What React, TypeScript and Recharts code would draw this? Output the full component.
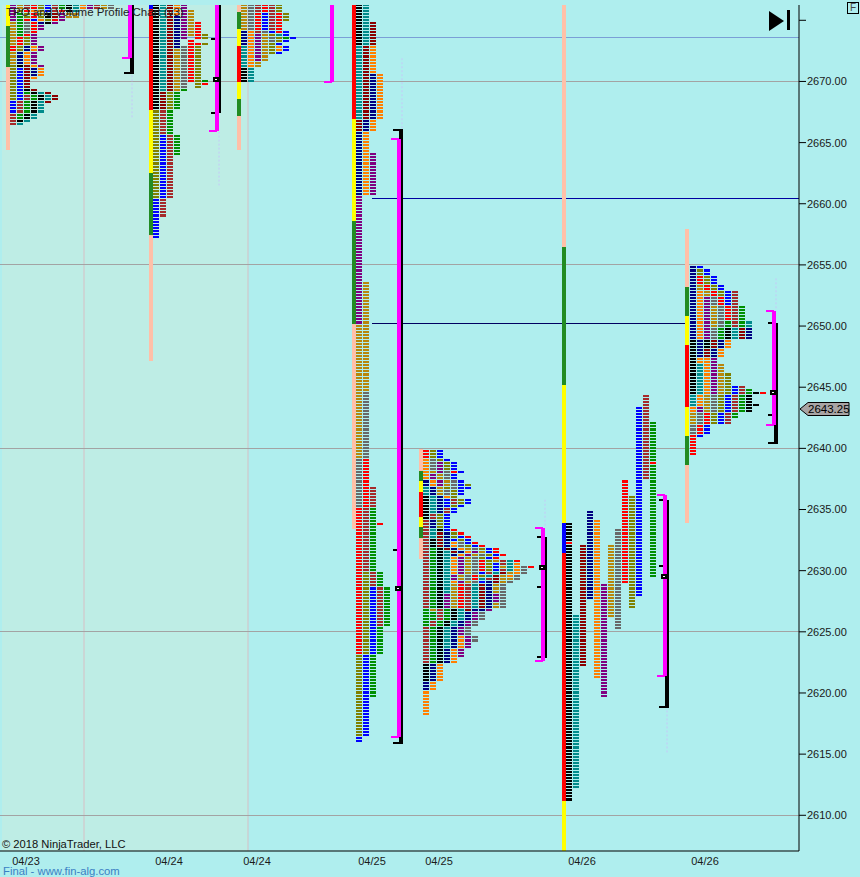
import { ReferenceArea, ReferenceDot, ReferenceLine, Scatter, ScatterChart, XAxis, YAxis } from "recharts"

const FONT = "'Liberation Sans', Arial, sans-serif"
const TOP = 2676.25
const BOTTOM = 2607.08
const COL_STEP = 7
const UNDER_MARKS = -50

const colors: Record<string, string> = {
  K: "#000000",
  T: "#008b8b",
  D: "#8b0000",
  N: "#000080",
  O: "#ff7f00",
  P: "#800080",
  G: "#b8860b",
  Y: "#696969",
  R: "#ff0000",
  L: "#808000",
  B: "#0000ff",
  W: "#a52a2a",
  F: "#008f00",
}

const priceTicks = [2610, 2615, 2620, 2625, 2630, 2635, 2640, 2645, 2650, 2655, 2660, 2665, 2670, 2675]
const gridPrices = [2610, 2625, 2640, 2655, 2670]
const sessionTicks = [26, 169, 257, 372, 439, 582, 705]
const sessionLabels = ["04/23", "04/24", "04/24", "04/25", "04/25", "04/26", "04/26"]
const lastPrice = 2643.25

// profile rows: [high, low, letters left to right]
const bands0423 = [
  [2676.25, 2676.0, "PGWRLBWFKTOPWGY"],
  [2675.75, 2675.75, "PLROGBWRKT"],
  [2675.5, 2675.25, "PFLRLKDPGG"],
  [2675.0, 2675.0, "PFRBOLRP"],
  [2674.75, 2674.75, "GFYRNKP"],
  [2674.5, 2674.25, "GFYRP"],
  [2674.0, 2674.0, "GFYR"],
  [2673.75, 2673.75, "GFRP"],
  [2673.5, 2673.0, "GRLP"],
  [2672.75, 2672.5, "RLNOP"],
  [2672.25, 2671.5, "GNOP"],
  [2671.25, 2671.25, "LKDOP"],
  [2671.0, 2670.5, "LBDNO"],
  [2670.25, 2670.25, "LBDO"],
  [2670.0, 2669.5, "LBD"],
  [2669.25, 2669.25, "LBKD"],
  [2669.0, 2669.0, "LBFKTD"],
  [2668.75, 2668.5, "LBWFKTD"],
  [2668.25, 2668.25, "BWFKTD"],
  [2668.0, 2667.5, "BWFKT"],
  [2667.25, 2667.0, "WFKT"],
  [2666.75, 2666.75, "WKT"],
  [2666.5, 2666.5, "WT"],
]

const bands0424 = [
  [2676.25, 2675.75, "GYWRWL"],
  [2675.5, 2675.0, "GYRBWRL"],
  [2674.75, 2674.25, "GYRBWR"],
  [2674.0, 2674.0, "NOWYBRB"],
  [2673.75, 2673.75, "NOPGLTB"],
  [2673.5, 2673.5, "NOPGYLFB"],
  [2673.25, 2673.25, "NOPGYLB"],
  [2673.0, 2673.0, "NOPGLB"],
  [2672.75, 2672.5, "TOPGLOB"],
  [2672.25, 2672.25, "TOPGLB"],
  [2672.0, 2671.75, "TOPG"],
  [2671.5, 2671.25, "TOG"],
  [2671.0, 2670.0, "KT"],
]

const bands0425 = [
  [2639.75, 2639.25, "RLB"],
  [2639.0, 2639.0, "OYLB"],
  [2638.75, 2638.25, "OYPLB"],
  [2638.0, 2638.0, "OGPYRB"],
  [2637.75, 2637.5, "OPGYB"],
  [2637.25, 2637.25, "NOPGYB"],
  [2637.0, 2637.0, "NOPGYBL"],
  [2636.75, 2636.75, "TNGLYBB"],
  [2636.5, 2636.25, "TNGYLB"],
  [2636.0, 2636.0, "KTNOL"],
  [2635.75, 2635.5, "KTNBWLB"],
  [2635.25, 2635.25, "KTNBLB"],
  [2635.0, 2634.75, "KTNWB"],
  [2634.5, 2634.25, "KWLB"],
  [2634.0, 2633.5, "WNLB"],
  [2633.25, 2633.25, "WTKBR"],
  [2633.0, 2633.0, "WTDNLR"],
  [2632.75, 2632.75, "WTDNLBR"],
  [2632.5, 2632.5, "WKDNBLB"],
  [2632.25, 2632.25, "WKDNOYBR"],
  [2632.0, 2632.0, "WKDNOYLBR"],
  [2631.75, 2631.75, "WFKDNOGYLBR"],
  [2631.5, 2631.5, "WFKTDNOPGBR"],
  [2631.25, 2631.25, "WFKTNOPGYLBR"],
  [2631.0, 2631.0, "WFKTOPGYLBR"],
  [2630.75, 2630.75, "WFKTOPGYRLGWTR"],
  [2630.5, 2630.5, "WFKTOPGYRLBWTO"],
  [2630.25, 2630.25, "WFKTOPGYRLBGTOYR"],
  [2630.0, 2630.0, "WFKTOPGYRLBWTOY"],
  [2629.75, 2629.75, "WFKTOPGYBWTDGOY"],
  [2629.5, 2629.5, "WFKTPGYRLTDGOY"],
  [2629.25, 2629.25, "WFKTPGYRTWDGGY"],
  [2629.0, 2629.0, "WFKTOPGYBNDGY"],
  [2628.75, 2628.25, "WFKTGRWTDNGY"],
  [2628.0, 2627.5, "WFKPGRWTDNPY"],
  [2627.25, 2627.0, "WFKPGRWTDNGY"],
  [2626.75, 2626.75, "FGWFKTDNNP"],
  [2626.5, 2626.0, "FFWFKTNPY"],
  [2625.75, 2625.5, "FWFKTNPY"],
  [2625.25, 2624.75, "WFKTNPY"],
  [2624.5, 2624.25, "WFKTNOPY"],
  [2624.0, 2623.75, "WFKTNOP"],
  [2623.5, 2623.0, "WFKNOP"],
  [2622.75, 2622.5, "WFKNO"],
  [2622.25, 2621.0, "KNO"],
  [2620.75, 2620.25, "NO"],
  [2620.0, 2618.25, "O"],
]

const bands0426 = [
  [2654.75, 2654.75, "NB"],
  [2654.5, 2654.25, "NLB"],
  [2654.0, 2653.5, "NRLB"],
  [2653.25, 2653.0, "NGRLB"],
  [2652.75, 2652.5, "NOGRLBW"],
  [2652.25, 2651.75, "NOPYRBW"],
  [2651.5, 2650.5, "NOPGYRWF"],
  [2650.25, 2650.0, "NOPGYFWFT"],
  [2649.75, 2649.0, "NOPYFKTDN"],
  [2648.75, 2648.25, "KNKDNO"],
  [2648.0, 2647.5, "KNDNO"],
  [2647.25, 2647.0, "KOOP"],
  [2646.75, 2646.25, "KTOPG"],
  [2646.0, 2645.25, "KTOPGL"],
  [2645.0, 2645.0, "KTOPGLBW"],
  [2644.75, 2644.75, "KTOPGLBWF"],
  [2644.5, 2644.5, "KTOPGLBWFKR"],
  [2644.25, 2643.75, "TOGYLBWFK"],
  [2643.5, 2643.5, "TOGYLBWFKK"],
  [2643.25, 2643.0, "OPGYLBWFK"],
  [2642.75, 2642.5, "GYRLBWF"],
  [2642.25, 2642.0, "GYRLBW"],
  [2641.75, 2641.25, "YRB"],
  [2641.0, 2641.0, "RB"],
  [2640.75, 2639.5, "R"],
]

// column runs: [column, letter, high, low]
const runs0424 = [
  [0, "K", 2676.25, 2667.75],
  [0, "L", 2667.5, 2660.5],
  [0, "B", 2660.25, 2657.25],
  [1, "T", 2676.25, 2669.25],
  [1, "D", 2669.0, 2667.75],
  [1, "W", 2667.5, 2665.75],
  [1, "B", 2665.5, 2660.5],
  [1, "W", 2660.25, 2659.0],
  [2, "D", 2676.25, 2669.25],
  [2, "L", 2669.0, 2667.75],
  [2, "F", 2667.5, 2665.75],
  [2, "W", 2665.5, 2660.5],
  [3, "O", 2676.25, 2675.5],
  [3, "N", 2675.25, 2672.75],
  [3, "G", 2672.5, 2669.25],
  [3, "F", 2669.0, 2667.75],
  [3, "F", 2665.5, 2664.0],
  [4, "P", 2676.25, 2673.5],
  [4, "Y", 2672.75, 2669.5],
  [4, "F", 2669.25, 2669.25],
  [5, "G", 2675.75, 2673.75],
  [5, "R", 2673.25, 2670.0],
  [6, "R", 2674.75, 2673.5],
  [6, "R", 2673.0, 2673.0],
  [6, "L", 2672.75, 2669.5],
  [7, "L", 2673.75, 2673.5],
  [7, "L", 2673.0, 2673.0],
  [7, "F", 2670.0, 2670.0],
  [7, "R", 2669.75, 2669.75],
]

const runs0425 = [
  [0, "K", 2676.25, 2673.0],
  [0, "T", 2672.75, 2667.0],
  [0, "D", 2666.75, 2666.0],
  [0, "N", 2665.75, 2660.75],
  [0, "P", 2660.5, 2650.25],
  [0, "G", 2650.0, 2639.25],
  [0, "Y", 2639.0, 2635.25],
  [0, "R", 2635.0, 2623.25],
  [0, "L", 2623.0, 2616.5],
  [0, "B", 2616.25, 2616.0],
  [1, "T", 2676.25, 2673.0],
  [1, "D", 2672.75, 2667.0],
  [1, "N", 2666.75, 2666.0],
  [1, "O", 2665.75, 2660.75],
  [1, "G", 2653.5, 2644.75],
  [1, "Y", 2644.5, 2639.25],
  [1, "R", 2639.0, 2635.25],
  [1, "W", 2635.0, 2629.75],
  [1, "L", 2629.75, 2623.25],
  [1, "B", 2623.0, 2616.5],
  [2, "D", 2674.75, 2673.0],
  [2, "O", 2672.75, 2670.75],
  [2, "N", 2670.5, 2667.0],
  [2, "O", 2666.75, 2666.0],
  [2, "P", 2664.0, 2660.75],
  [2, "W", 2636.75, 2635.25],
  [2, "F", 2635.0, 2630.0],
  [2, "W", 2629.75, 2628.75],
  [2, "B", 2628.5, 2623.25],
  [2, "F", 2623.0, 2619.75],
  [3, "O", 2670.5, 2667.0],
  [3, "R", 2633.75, 2633.75],
  [3, "F", 2629.75, 2628.75],
  [3, "W", 2628.5, 2625.5],
  [3, "F", 2625.25, 2623.25],
  [4, "F", 2628.5, 2625.5],
]

const runs0426 = [
  [0, "K", 2633.75, 2611.25],
  [1, "T", 2626.25, 2612.25],
  [2, "D", 2632.0, 2622.25],
  [3, "N", 2634.75, 2627.75],
  [4, "O", 2634.0, 2621.25],
  [5, "P", 2628.75, 2619.75],
  [6, "G", 2632.0, 2626.25],
  [7, "Y", 2633.25, 2625.25],
  [8, "R", 2637.25, 2629.0],
  [9, "L", 2636.0, 2627.0],
  [10, "B", 2643.25, 2628.0],
  [11, "W", 2644.25, 2637.5],
  [12, "F", 2642.0, 2629.5],
  [12, "R", 2638.75, 2638.75],
  [0, "R", 2632.25, 2632.25],
]

const profiles = [
  { x: 10, bands: bands0423 },
  { x: 153, runs: runs0424 },
  { x: 241, bands: bands0424 },
  { x: 356, runs: runs0425 },
  { x: 423, bands: bands0425 },
  { x: 566, runs: runs0426 },
  { x: 690, bands: bands0426 },
]

// value area bars beside each profile: [x, high, low, colour]
const spines = [
  [6, TOP, 2674.56, "#ffff00"],
  [6, 2674.56, 2671.2, "#228b22"],
  [6, 2671.2, 2664.42, "#ffc0a8"],
  [149, TOP, 2675.94, "#0000ff"],
  [149, 2675.94, 2667.69, "#ff0000"],
  [149, 2667.69, 2662.54, "#ffff00"],
  [149, 2662.54, 2657.47, "#228b22"],
  [149, 2657.47, 2647.16, "#ffc0a8"],
  [237, TOP, 2675.7, "#ffc0a8"],
  [237, 2675.7, 2674.3, "#228b22"],
  [237, 2674.3, 2672.92, "#ffff00"],
  [237, 2672.92, 2669.97, "#ff0000"],
  [237, 2669.97, 2668.58, "#ffff00"],
  [237, 2668.58, 2667.19, "#228b22"],
  [237, 2667.19, 2664.42, "#ffc0a8"],
  [352, TOP, 2666.95, "#ff0000"],
  [352, 2666.95, 2658.61, "#ffff00"],
  [352, 2658.61, 2650.19, "#228b22"],
  [352, 2650.19, 2633.43, "#ffc0a8"],
  [419, 2639.96, 2638.16, "#ffc0a8"],
  [419, 2638.16, 2637.34, "#228b22"],
  [419, 2637.34, 2636.44, "#ffff00"],
  [419, 2636.44, 2634.4, "#ff0000"],
  [419, 2634.4, 2633.58, "#ffff00"],
  [419, 2633.58, 2632.68, "#228b22"],
  [419, 2632.68, 2630.96, "#ffc0a8"],
  [562, TOP, 2656.49, "#ffc0a8"],
  [562, 2656.49, 2645.2, "#228b22"],
  [562, 2645.2, 2633.92, "#ffff00"],
  [562, 2633.92, 2631.46, "#0000ff"],
  [562, 2631.46, 2611.19, "#ff0000"],
  [562, 2611.19, BOTTOM, "#ffff00"],
  [685, 2657.96, 2653.2, "#ffc0a8"],
  [685, 2653.2, 2650.84, "#228b22"],
  [685, 2650.84, 2648.47, "#ffff00"],
  [685, 2648.47, 2643.4, "#ff0000"],
  [685, 2643.4, 2641.03, "#ffff00"],
  [685, 2641.03, 2638.66, "#228b22"],
  [685, 2638.66, 2633.92, "#ffc0a8"],
]

const brackets = [
  { x: 130, mHi: TOP, mLo: 2671.94, kHi: TOP, kLo: 2670.71, ticks: [] as number[], poc: null },
  { x: 217, mHi: TOP, mLo: 2665.97, kHi: TOP, kLo: 2667.44, ticks: [2673.49, 2667.44], poc: 2670.1 },
  { x: 332, mHi: TOP, mLo: 2669.97, kHi: null, kLo: null, ticks: [] as number[], poc: null },
  { x: 399, mHi: 2665.32, mLo: 2616.42, kHi: 2666.05, kLo: 2615.93, ticks: [2631.7], poc: 2628.5 },
  { x: 543, mHi: 2633.5, mLo: 2622.63, kHi: 2632.77, kLo: 2622.88, ticks: [2632.77, 2628.7, 2622.98], poc: 2630.25 },
  { x: 665, mHi: 2636.2, mLo: 2621.4, kHi: 2635.8, kLo: 2618.87, ticks: [2635.8, 2630.4], poc: 2629.5 },
  { x: 774, mHi: 2651.25, mLo: 2641.93, kHi: 2650.27, kLo: 2640.46, ticks: [2650.27, 2642.69], poc: 2644.5 },
]

const faintWicks = [
  [132, 2670.5, 2666.95],
  [219, 2665.9, 2661.5],
  [402, 2671.9, 2666.0],
  [545, 2635.8, 2633.5],
  [667, 2618.9, 2615.0],
  [776, 2653.9, 2651.25],
]

const levels = [
  { price: 2660.45, from: 372, to: 799, color: "#0000a0" },
  { price: 2650.17, from: 372, to: 685, color: "#000060" },
]

function buildCells() {
  const cells: { x: number; price: number; color: string }[] = []
  profiles.forEach((profile: any) => {
    ;(profile.bands || []).forEach(([hi, lo, letters]: any) => {
      for (let price = hi; price >= lo; price -= 0.25) {
        letters.split("").forEach((letter: string, col: number) => {
          cells.push({ x: profile.x + col * COL_STEP, price, color: colors[letter] })
        })
      }
    })
    ;(profile.runs || []).forEach(([col, letter, hi, lo]: any) => {
      for (let price = hi; price >= lo; price -= 0.25) {
        cells.push({ x: profile.x + col * COL_STEP, price, color: colors[letter] })
      }
    })
  })
  return cells
}

const cells = buildCells()
const pocs = brackets.filter((b) => b.poc !== null).map((b) => ({ x: b.x, price: b.poc }))

const TpoCell = ({ cx, cy, payload }: any) => {
  const top = Math.round(cy - 1.53)
  const bottom = Math.round(cy + 1.53) - 1
  return <rect x={Math.round(cx)} y={top} width={6} height={bottom - top} fill={payload.color} shapeRendering="crispEdges" />
}

const PocBox = ({ cx, cy }: any) => {
  const x = Math.round(cx) - 4
  const y = Math.round(cy) - 3
  return (
    <g shapeRendering="crispEdges">
      <rect x={x} y={y} width={7} height={5} fill="#000" />
      <rect x={x + 2} y={y + 2} width={2} height={1} fill="#fff" />
    </g>
  )
}

const PriceMarker = ({ cx, cy }: any) => {
  const x = cx + 1
  const y = Math.round(cy)
  return (
    <g>
      <polygon
        points={`${x},${y} ${x + 8},${y - 6.5} ${x + 49},${y - 6.5} ${x + 49},${y + 6.5} ${x + 8},${y + 6.5}`}
        fill="#a8a4a4"
        stroke="#000"
      />
      <text x={x + 8} y={y + 4} fontSize={11.5} fontFamily={FONT} fill="#000">
        {lastPrice.toFixed(2)}
      </text>
    </g>
  )
}

const SessionTick = ({ x, y, payload, index }: any) => (
  <text x={x} y={y + 8} textAnchor="middle" fontSize={11} fontFamily={FONT} fill="#1a1a1a">
    {sessionLabels[index] ?? payload.value}
  </text>
)

const textStyle = { position: "absolute", fontFamily: FONT, whiteSpace: "nowrap", lineHeight: "14px" } as const

export default function App() {
  return (
    <div style={{ position: "absolute", left: 0, top: 0, width: 860, height: 877, background: "#afeeee", overflow: "hidden" }}>
      <ScatterChart width={860} height={877} margin={{ top: 5, right: 0, bottom: 0, left: 0 }}>
        <XAxis
          type="number"
          dataKey="x"
          domain={[0, 799]}
          allowDataOverflow
          ticks={sessionTicks}
          interval={0}
          tickLine={false}
          axisLine={{ stroke: "#000" }}
          height={26}
          tickMargin={0}
          tick={SessionTick}
        />
        <YAxis
          type="number"
          dataKey="price"
          orientation="right"
          domain={[BOTTOM, TOP]}
          allowDataOverflow
          ticks={priceTicks}
          interval={0}
          width={61}
          tickSize={7}
          tickMargin={1}
          tickFormatter={(v: number) => (v === 2675 ? "" : v.toFixed(2))}
          axisLine={{ stroke: "#000" }}
          tickLine={{ stroke: "#000" }}
          tick={{ fill: "#1a1a1a", fontSize: 11, fontFamily: FONT, textAnchor: "start" }}
        />

        <ReferenceArea x1={2} x2={248} y1={BOTTOM} y2={TOP} fill="#beede5" fillOpacity={1} stroke="none" zIndex={UNDER_MARKS - 10} />
        <ReferenceLine x={84} stroke="#d6bfc4" zIndex={UNDER_MARKS} />
        <ReferenceLine x={248} stroke="#d6bfc4" zIndex={UNDER_MARKS} />
        {gridPrices.map((p) => (
          <ReferenceLine key={p} y={p} stroke="#a3a3a3" shapeRendering="crispEdges" zIndex={UNDER_MARKS} />
        ))}
        <ReferenceLine y={2673.6} stroke="#7a9fd6" shapeRendering="crispEdges" zIndex={UNDER_MARKS} />
        {levels.map((l) => (
          <ReferenceLine
            key={l.price}
            segment={[
              { x: l.from, y: l.price },
              { x: l.to, y: l.price },
            ]}
            stroke={l.color}
            shapeRendering="crispEdges"
            zIndex={UNDER_MARKS}
          />
        ))}
        {faintWicks.map(([x, hi, lo]) => (
          <ReferenceLine
            key={x}
            segment={[
              { x, y: hi },
              { x, y: lo },
            ]}
            stroke="#c4c8f8"
            strokeDasharray="2 2"
            zIndex={UNDER_MARKS}
          />
        ))}

        <Scatter data={cells} shape={TpoCell} isAnimationActive={false} />

        {spines.map(([x, hi, lo, color]: any) => (
          <ReferenceArea key={`${x}-${hi}`} x1={x} x2={x + 4} y1={lo} y2={hi} fill={color} fillOpacity={1} stroke="none" shapeRendering="crispEdges" />
        ))}

        {brackets.flatMap((b) => {
          const parts: any[] = []
          const seg = (id: string, x1: number, y1: number, x2: number, y2: number, stroke: string, w: number) =>
            parts.push(
              <ReferenceLine
                key={`${b.x}-${id}`}
                segment={[
                  { x: x1, y: y1 },
                  { x: x2, y: y2 },
                ]}
                stroke={stroke}
                strokeWidth={w}
                shapeRendering="crispEdges"
              />
            )
          if (b.kHi !== null && b.kLo !== null) {
            seg("k", b.x + 3, b.kHi, b.x + 3, b.kLo, "#000", 2)
            if (b.kHi > b.mHi) {
              seg("kt", b.x + 2, b.kHi, b.x + 2, b.mHi, "#000", 4)
              seg("kf", b.x - 6, b.kHi, b.x + 4, b.kHi, "#000", 2)
            }
            if (b.kLo < b.mLo) {
              seg("kb", b.x + 2, b.mLo, b.x + 2, b.kLo, "#000", 4)
              seg("kg", b.x - 6, b.kLo, b.x + 4, b.kLo, "#000", 2)
            }
          }
          b.ticks.forEach((t) => seg(`t${t}`, b.x - 6, t, b.x - 2, t, "#000", 2))
          seg("m", b.x, b.mHi, b.x, b.mLo, "#ff00ff", 4)
          if (b.mHi < TOP) seg("mt", b.x - 8, b.mHi, b.x, b.mHi, "#ff00ff", 2)
          seg("mb", b.x - 8, b.mLo, b.x, b.mLo, "#ff00ff", 2)
          return parts
        })}

        <Scatter data={pocs} shape={PocBox} isAnimationActive={false} />
        <ReferenceDot x={799} y={lastPrice} ifOverflow="visible" shape={PriceMarker} />
      </ScatterChart>

      <div style={{ ...textStyle, left: 6, top: 5, fontSize: 11.5, color: "#222" }}>TPO and Volume Profile Chart (v3)</div>
      <div style={{ ...textStyle, left: 2, top: 837, fontSize: 11.2, color: "#111" }}>© 2018 NinjaTrader, LLC</div>
      <div style={{ ...textStyle, left: 3, top: 864, fontSize: 11.3, color: "#3a80c4" }}>Final - www.fin-alg.com</div>
      <svg style={{ position: "absolute", left: 765, top: 6 }} width={30} height={30}>
        <polygon points="4,5 19,15 4,25" fill="#000" />
        <rect x={22} y={4} width={3} height={20} fill="#000" />
      </svg>
      <div
        style={{
          ...textStyle,
          left: 847,
          top: 2,
          width: 10,
          height: 10,
          border: "1px solid #000",
          fontSize: 10,
          lineHeight: "10px",
          textAlign: "center",
          color: "#444",
        }}
      >
        F
      </div>
    </div>
  )
}
